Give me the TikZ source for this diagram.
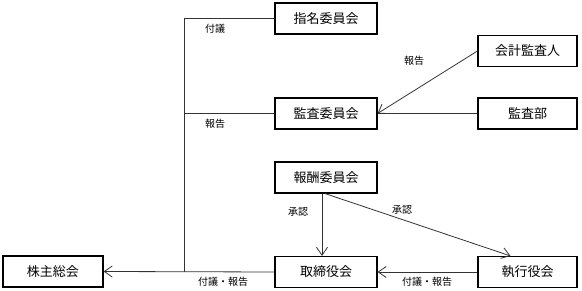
\documentclass[tikz,border=0pt]{standalone}
\usepackage{fontspec}
\setmainfont{Noto Sans CJK JP}
\usetikzlibrary{arrows.meta}
\begin{document}
\begin{tikzpicture}[x=1pt,y=-1pt,
  box/.style={draw=black,line width=1.1pt,rectangle,inner sep=0pt,minimum height=31pt,font=\fontsize{13}{13}\selectfont},
  wbox/.style={box,minimum width=102pt},
  rbox/.style={box,minimum width=99pt},
  conn/.style={draw=black!80,line width=0.8pt},
  arr/.style={conn,-{Straight Barb[length=8pt,width=11pt,line width=0.8pt]}},
  lbl/.style={font=\fontsize{10}{10}\selectfont,inner sep=0pt}]
\useasboundingbox (0,0) rectangle (582,291);
\node[wbox] (shimei) at (326,18.5) {指名委員会};
\node[wbox] (kansa) at (326,113.5) {監査委員会};
\node[rbox] (kaikei) at (527.5,51) {会計監査人};
\node[rbox] (kansabu) at (527.5,113.5) {監査部};
\node[wbox] (hoshu) at (326,177.5) {報酬委員会};
\node[wbox] (tori) at (326,272) {取締役会};
\node[rbox] (shikko) at (527.5,272) {執行役会};
\node[box,minimum width=100pt] (kabu) at (53,271.5) {株主総会};
\coordinate (j1) at (184,18.5);
\coordinate (j2) at (184,113.5);
\coordinate (j3) at (184,272);
\draw[conn] (shimei.west) -- (j1) -- (j3);
\draw[conn] (kansa.west) -- (j2);
\draw[arr] (tori.west) -- (kabu.east);
\draw[arr] (kaikei.west) -- (kansa.east);
\draw[conn] (kansabu.west) -- (kansa.east);
\draw[arr] ([xshift=-4pt]hoshu.south) -- ([xshift=-4pt]tori.north);
\draw[arr] ([xshift=-1pt]hoshu.south) -- ([xshift=-17pt]shikko.north);
\draw[arr] (shikko.west) -- (tori.east);
\node[lbl] (l1) at (215,29) {付議};
\node[lbl] (l2) at (215,124) {報告};
\node[lbl] (l3) at (223,282) {付議・報告};
\node[lbl] (l4) at (414,61) {報告};
\node[lbl] (l5) at (298,212) {承認};
\node[lbl] (l6) at (402,210) {承認};
\node[lbl] (l7) at (427,282) {付議・報告};
\end{tikzpicture}
\end{document}
